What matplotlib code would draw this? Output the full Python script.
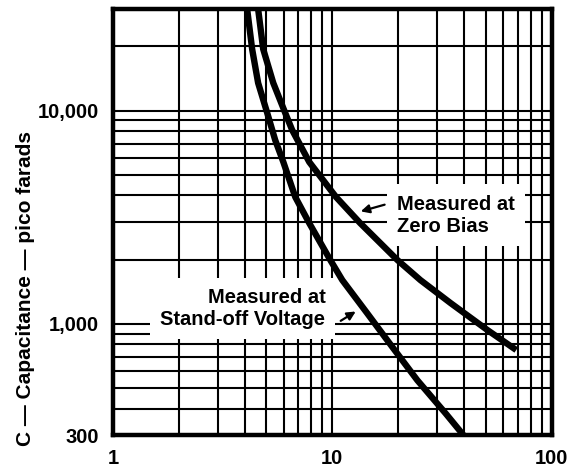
import matplotlib
matplotlib.use("Agg")
import matplotlib.pyplot as plt
from matplotlib import font_manager
from matplotlib.ticker import FixedLocator, LogLocator, NullFormatter

# narrow bold face if we have one, Arial-like otherwise
installed = {f.name for f in font_manager.fontManager.ttflist}
if 'Liberation Sans Narrow' in installed:
    face, k = 'Liberation Sans Narrow', 1 / 0.82
else:
    face, k = 'Liberation Sans', 1.0
plt.rcParams['font.family'] = [face, 'DejaVu Sans']
plt.rcParams['font.weight'] = 'bold'
plt.rcParams['axes.labelweight'] = 'bold'

# curve readings (voltage, capacitance in pF)
standoff_v = [4.09, 4.31, 4.59, 5.05, 5.49, 5.98, 6.78, 7.85, 9.79, 11.1, 14.4, 18.8, 24.4, 32.8, 39.6]
standoff_c = [30000, 19460, 13490, 9750, 7280, 5740, 3930, 2965, 1990, 1603, 1122, 776, 543, 380, 300]

zero_v = [4.59, 4.84, 5.38, 6.10, 6.56, 7.85, 10.4, 13.4, 19.8, 25.2, 34.6, 51.0, 67.0]
zero_c = [30000, 19460, 13490, 9750, 8110, 5740, 3930, 2965, 1990, 1603, 1250, 933, 768]

x_ticks = [1, 10, 100]
x_labels = ['1', '10', '100']
y_ticks = [300, 1000, 10000]
y_labels = ['300', '1,000', '10,000']

fig = plt.figure(figsize=(5.73, 4.71), dpi=100)
ax = fig.add_axes([0.197, 0.076, 0.766, 0.905])

ax.plot(standoff_v, standoff_c, color='black', lw=4.6, solid_joinstyle='round', zorder=5)
ax.plot(zero_v, zero_c, color='black', lw=4.6, solid_joinstyle='round', zorder=5)

ax.set_xscale('log')
ax.set_yscale('log')
ax.set_xlim(1, 100)
ax.set_ylim(300, 30000)

ax.xaxis.set_major_locator(FixedLocator(x_ticks))
ax.set_xticklabels(x_labels)
ax.yaxis.set_major_locator(FixedLocator(y_ticks))
ax.set_yticklabels(y_labels)
ax.xaxis.set_minor_locator(LogLocator(base=10, subs=range(2, 10)))
ax.yaxis.set_minor_locator(LogLocator(base=10, subs=range(1, 10)))
ax.xaxis.set_minor_formatter(NullFormatter())
ax.yaxis.set_minor_formatter(NullFormatter())
ax.tick_params(which='both', length=0, labelsize=14.5 * k, pad=10)
ax.grid(which='both', color='black', lw=1.5)
ax.set_axisbelow(True)

for s in ax.spines.values():
    s.set_linewidth(3.2)

ax.set_ylabel('C — Capacitance — pico farads', fontsize=15 * k)
ax.yaxis.set_label_coords(-0.178, 0.345)

box = dict(boxstyle='square,pad=0.5', facecolor='white', edgecolor='none')
ax.text(19.8, 3236, 'Measured at\nZero Bias', fontsize=14.5 * k, ha='left', va='center',
        linespacing=1.2, bbox=box, zorder=4)
ax.text(9.29, 1183, 'Measured at\nStand-off Voltage', fontsize=14.5 * k, ha='right', va='center',
        multialignment='right', linespacing=1.2, bbox=box, zorder=4)

arrow = dict(arrowstyle='-|>,head_length=0.5,head_width=0.25', color='black', lw=1.6)
ax.annotate('', xy=(13.1, 3340), xytext=(17.8, 3650), arrowprops=arrow, zorder=6)
ax.annotate('', xy=(13.1, 1160), xytext=(10.65, 1016), arrowprops=arrow, zorder=6)

fig.savefig('out.png', dpi=100)
